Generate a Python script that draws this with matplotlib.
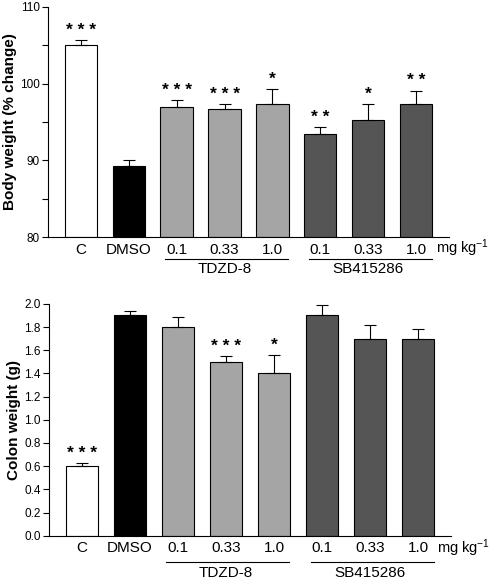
import matplotlib
matplotlib.use("Agg")
import matplotlib.pyplot as plt
import numpy as np

plt.rcParams['font.family'] = ['Liberation Sans', 'DejaVu Sans']
plt.rcParams['mathtext.default'] = 'regular'

categories = ["C", "DMSO", "0.1", "0.33", "1.0", "0.1", "0.33", "1.0"]
groups = [("TDZD-8", 2, 4), ("SB415286", 5, 7)]
colors = ["white", "black", "#a5a5a5", "#a5a5a5", "#a5a5a5", "#555555", "#555555", "#555555"]

body_weight = [105.0, 89.3, 96.9, 96.7, 97.3, 93.5, 95.2, 97.4]
body_err = [0.7, 0.7, 1.0, 0.6, 2.0, 0.8, 2.2, 1.7]
body_sig = ["***", "", "***", "***", "*", "**", "*", "**"]

colon_weight = [0.60, 1.90, 1.80, 1.50, 1.40, 1.90, 1.70, 1.70]
colon_err = [0.03, 0.04, 0.09, 0.05, 0.16, 0.09, 0.12, 0.08]
colon_sig = ["***", "", "", "***", "*", "", "", ""]

fig = plt.figure(figsize=(4.95, 5.81), dpi=100)
ax1 = fig.add_axes([0.097, 0.592, 0.810, 0.396])
ax2 = fig.add_axes([0.099, 0.078, 0.812, 0.399])


def draw(ax, vals, errs, sigs, ylim, yticks, minor, ylabel, fmt, line_off, label_off):
    x = np.arange(len(vals))
    ax.bar(x, [v - ylim[0] for v in vals], bottom=ylim[0], width=0.67, color=colors,
           edgecolor="black", linewidth=0.8, zorder=2)
    ax.errorbar(x, vals, yerr=[np.zeros(len(errs)), errs], fmt="none", ecolor="black",
                elinewidth=0.8, capsize=4, capthick=0.8, zorder=3)
    for xi, v, e, s in zip(x, vals, errs, sigs):
        if s:
            ax.annotate(" ".join(s), (xi, v + e), xytext=(0, 1.5),
                        textcoords="offset points", ha="center", va="bottom",
                        fontsize=12.5, fontweight="bold")
    ax.set_xlim(-0.68, 7.68)
    ax.set_ylim(*ylim)
    ax.set_yticks(yticks)
    ax.set_yticklabels([fmt.format(t) for t in yticks], fontsize=8.5)
    if minor:
        ax.set_yticks(minor, minor=True)
    ax.tick_params(axis="y", which="both", direction="out", length=4, width=0.8, pad=2)
    ax.set_xticks(x)
    ax.set_xticklabels(categories, fontsize=11)
    ax.tick_params(axis="x", length=0, pad=4)
    ax.spines["top"].set_visible(False)
    ax.spines["right"].set_visible(False)
    ax.spines["left"].set_linewidth(0.8)
    ax.spines["bottom"].set_linewidth(0.8)
    ax.set_ylabel(ylabel, fontsize=11, fontweight="bold", labelpad=2)
    trans = ax.get_xaxis_transform()
    for name, a, b in groups:
        ax.plot([a - 0.24, b + 0.32], [line_off, line_off], color="black", lw=0.8,
                transform=trans, clip_on=False)
        ax.text((a + b) / 2, label_off, name, transform=trans, ha="center", va="center",
                fontsize=11)
    return trans


t1 = draw(ax1, body_weight, body_err, body_sig, (80, 110), [80, 90, 100, 110], [85, 95, 105],
          "Body weight (% change)", "{:.0f}", -0.095, -0.14)
t2 = draw(ax2, colon_weight, colon_err, colon_sig, (0, 2.0), list(np.round(np.arange(0, 2.01, 0.2), 1)), None,
          "Colon weight (g)", "{:.1f}", -0.115, -0.16)

ax1.text(7.40, -0.048, "mg kg$^{-1}$", transform=t1, ha="left", va="center", fontsize=10.5)
ax2.text(7.40, -0.052, "mg kg$^{-1}$", transform=t2, ha="left", va="center", fontsize=10.5)

fig.savefig("out.png", dpi=100)
